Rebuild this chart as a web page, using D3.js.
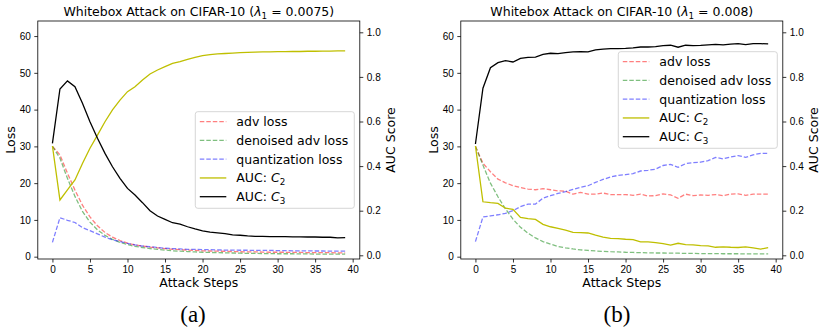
<!DOCTYPE html>
<html>
<head>
<meta charset="utf-8">
<script src="https://cdn.jsdelivr.net/npm/d3@7"></script>
<style>
    body { margin: 0; background: #fff; }
    svg { display: block; font-family: "DejaVu Sans", sans-serif; }
    .tick text { font-size: 10px; fill: #000; }
    .axis-label { font-size: 12.5px; fill: #000; }
    .title { font-size: 12.5px; fill: #000; }
    .legend text { font-size: 12.5px; fill: #000; }
    .caption { font-family: "Liberation Serif", serif; font-size: 23px; fill: #000; }
</style>
</head>
<body>
<svg id="chart" width="821" height="331"></svg>
<script>
// Attack steps 0..39
const steps = d3.range(0, 40);

// Panel (a): lambda = 0.0075
const advLossA = [30.0, 27.7, 22.7, 18.1, 14.0, 10.8, 8.4, 6.6, 5.3, 4.4, 3.7, 3.2, 2.9, 2.6, 2.4, 2.2, 2.0, 1.9, 1.8, 1.7,
    1.6, 1.55, 1.5, 1.45, 1.4, 1.35, 1.3, 1.3, 1.25, 1.2, 1.2, 1.2, 1.15, 1.15, 1.1, 1.1, 1.1, 1.1, 1.05, 1.05];
const denoisedLossA = [30.0, 26.8, 21.3, 16.4, 12.3, 9.4, 7.3, 5.8, 4.7, 3.9, 3.3, 2.8, 2.5, 2.2, 2.0, 1.8, 1.6, 1.5, 1.4, 1.3,
    1.2, 1.15, 1.1, 1.05, 1.0, 0.95, 0.9, 0.9, 0.85, 0.85, 0.8, 0.8, 0.8, 0.75, 0.75, 0.7, 0.7, 0.7, 0.7, 0.7];
const quantLossA = [3.9, 10.6, 9.9, 9.3, 7.9, 7.1, 6.2, 5.3, 4.6, 4.1, 3.6, 3.2, 2.9, 2.7, 2.5, 2.3, 2.2, 2.1, 2.0, 2.0,
    1.9, 1.9, 1.85, 1.8, 1.8, 1.75, 1.75, 1.7, 1.7, 1.7, 1.65, 1.65, 1.6, 1.6, 1.6, 1.55, 1.55, 1.5, 1.5, 1.5];
const aucC2A = [0.49, 0.248, 0.293, 0.338, 0.412, 0.480, 0.539, 0.599, 0.652, 0.696, 0.734, 0.756, 0.786, 0.813, 0.831, 0.846, 0.861, 0.868, 0.879, 0.888,
    0.895, 0.900, 0.903, 0.905, 0.907, 0.909, 0.910, 0.911, 0.912, 0.912, 0.913, 0.913, 0.914, 0.914, 0.915, 0.915, 0.916, 0.916, 0.917, 0.917];
const aucC3A = [0.502, 0.746, 0.782, 0.756, 0.682, 0.599, 0.525, 0.457, 0.397, 0.345, 0.300, 0.270, 0.236, 0.200, 0.176, 0.161, 0.146, 0.140, 0.128, 0.118,
    0.110, 0.104, 0.101, 0.097, 0.092, 0.090, 0.087, 0.085, 0.085, 0.084, 0.084, 0.084, 0.083, 0.083, 0.082, 0.082, 0.081, 0.081, 0.078, 0.079];

// Panel (b): lambda = 0.008
const advLossB = [30.0, 25.4, 23.1, 21.1, 20.1, 19.3, 18.8, 18.4, 18.2, 18.5, 18.2, 17.9, 17.8, 17.0, 17.5, 17.0, 17.0, 17.3, 16.9, 16.9,
    16.9, 16.7, 17.0, 16.5, 16.6, 17.1, 16.8, 15.9, 17.0, 16.6, 16.8, 16.7, 16.9, 16.6, 17.0, 17.1, 16.7, 17.0, 17.0, 17.0];
const denoisedLossB = [30.0, 24.9, 20.0, 16.3, 13.0, 10.2, 8.0, 6.4, 5.1, 4.1, 3.4, 2.8, 2.4, 2.1, 1.85, 1.7, 1.55, 1.45, 1.35, 1.3,
    1.2, 1.15, 1.1, 1.05, 1.0, 1.0, 0.95, 0.95, 0.9, 0.9, 0.85, 0.85, 0.85, 0.8, 0.8, 0.8, 0.75, 0.75, 0.75, 0.75];
const quantLossB = [4.1, 10.8, 11.1, 11.4, 11.8, 12.5, 13.6, 14.3, 14.3, 15.9, 16.6, 17.2, 17.7, 18.3, 18.9, 19.3, 20.2, 21.0, 21.7, 22.1,
    22.3, 22.6, 23.3, 23.5, 23.8, 24.8, 25.1, 24.3, 25.3, 25.6, 25.7, 26.1, 27.0, 26.6, 27.1, 27.5, 27.0, 27.7, 28.1, 28.1];
const aucC2B = [0.49, 0.240, 0.236, 0.233, 0.211, 0.206, 0.170, 0.164, 0.161, 0.139, 0.128, 0.121, 0.113, 0.103, 0.102, 0.100, 0.090, 0.081, 0.076, 0.075,
    0.072, 0.070, 0.060, 0.060, 0.057, 0.052, 0.046, 0.054, 0.048, 0.047, 0.043, 0.042, 0.036, 0.038, 0.036, 0.035, 0.038, 0.033, 0.028, 0.034];
const aucC3B = [0.499, 0.749, 0.841, 0.864, 0.873, 0.867, 0.883, 0.888, 0.889, 0.901, 0.906, 0.904, 0.909, 0.912, 0.913, 0.912, 0.921, 0.925, 0.927, 0.927,
    0.928, 0.930, 0.934, 0.934, 0.936, 0.940, 0.942, 0.933, 0.942, 0.940, 0.941, 0.944, 0.946, 0.944, 0.947, 0.949, 0.945, 0.949, 0.949, 0.948];

// Tick values
const xTicks = [0, 5, 10, 15, 20, 25, 30, 35, 40];
const lossTicks = [0, 10, 20, 30, 40, 50, 60];
const aucTicks = [0.0, 0.2, 0.4, 0.6, 0.8, 1.0];

const legendLabels = ['adv loss', 'denoised adv loss', 'quantization loss', 'C2', 'C3'];
const seriesColors = ['#ff0000', '#008000', '#0000ff', '#bfbf00', '#000000'];

const svg = d3.select('#chart');

// Adds "base" + subscript as mathtext-like tspans
function mathSub(text, base, sub) {
    text.append('tspan').attr('font-style', 'italic').text(base);
    text.append('tspan').attr('font-size', '0.7em').attr('dy', 3).text(sub);
}

function drawPanel(p) {
    const top = 21, bottom = 259;
    const g = svg.append('g');

    const x = d3.scaleLinear().domain([-1.95, 40.95]).range([p.left, p.right]);
    const yLoss = d3.scaleLinear().domain([-0.63, 64.1]).range([bottom, top]);
    const yAuc = d3.scaleLinear().domain([-0.0166, 1.0507]).range([bottom, top]);

    // Axes
    g.append('g')
        .attr('transform', `translate(0,${bottom})`)
        .call(d3.axisBottom(x).tickValues(xTicks).tickSize(3.5).tickPadding(3.5).tickFormat(d3.format('d')))
        .call(a => a.select('.domain').remove());
    g.append('g')
        .attr('transform', `translate(${p.left},0)`)
        .call(d3.axisLeft(yLoss).tickValues(lossTicks).tickSize(3.5).tickPadding(3.5).tickFormat(d3.format('d')))
        .call(a => a.select('.domain').remove());
    g.append('g')
        .attr('transform', `translate(${p.right},0)`)
        .call(d3.axisRight(yAuc).tickValues(aucTicks).tickSize(3.5).tickPadding(3.5).tickFormat(d3.format('.1f')))
        .call(a => a.select('.domain').remove());
    g.selectAll('.tick line').attr('stroke', '#000').attr('stroke-width', 0.8);
    g.selectAll('.tick text').attr('font-family', null).attr('font-size', null);

    // Loss lines (dashed, semi transparent)
    const lossLine = d3.line().x((d, i) => x(steps[i])).y(d => yLoss(d));
    [p.adv, p.denoised, p.quant].forEach((series, i) => {
        g.append('path')
            .datum(series)
            .attr('fill', 'none')
            .attr('stroke', seriesColors[i])
            .attr('stroke-opacity', 0.5)
            .attr('stroke-width', 1.3)
            .attr('stroke-dasharray', '4.5,2')
            .attr('d', lossLine);
    });

    // AUC lines on the twin axis
    const aucLine = d3.line().x((d, i) => x(steps[i])).y(d => yAuc(d));
    [p.c2, p.c3].forEach((series, i) => {
        g.append('path')
            .datum(series)
            .attr('fill', 'none')
            .attr('stroke', seriesColors[3 + i])
            .attr('stroke-width', 1.3)
            .attr('d', aucLine);
    });

    // Frame
    g.append('rect')
        .attr('x', p.left).attr('y', top)
        .attr('width', p.right - p.left).attr('height', bottom - top)
        .attr('fill', 'none').attr('stroke', '#000').attr('stroke-width', 0.8);

    // Title
    const mid = (p.left + p.right) / 2;
    const title = g.append('text').attr('class', 'title')
        .attr('x', mid).attr('y', 15.5).attr('text-anchor', 'middle');
    title.append('tspan').text('Whitebox Attack on CIFAR-10 (');
    mathSub(title, 'λ', '1');
    title.append('tspan').attr('dy', -3).text(` = ${p.lambda})`);

    // Axis labels
    g.append('text').attr('class', 'axis-label')
        .attr('x', mid).attr('y', 287).attr('text-anchor', 'middle')
        .text('Attack Steps');
    g.append('text').attr('class', 'axis-label')
        .attr('transform', `translate(${p.left - 23},${(top + bottom) / 2}) rotate(-90)`)
        .attr('text-anchor', 'middle')
        .text('Loss');
    g.append('text').attr('class', 'axis-label')
        .attr('transform', `translate(${p.right + 35},${(top + bottom) / 2}) rotate(-90)`)
        .attr('text-anchor', 'middle')
        .text('AUC Score');

    // Legend
    const lg = g.append('g').attr('class', 'legend')
        .attr('transform', `translate(${p.right - 164.5},${top + p.legendTop})`);
    lg.append('rect')
        .attr('width', 159).attr('height', 96.6).attr('rx', 2.5)
        .attr('fill', '#fff').attr('fill-opacity', 0.8)
        .attr('stroke', '#cccccc').attr('stroke-width', 0.8);
    legendLabels.forEach((label, i) => {
        const yy = 10 + i * 18.75;
        lg.append('line')
            .attr('x1', 4.5).attr('x2', 31).attr('y1', yy).attr('y2', yy)
            .attr('stroke', seriesColors[i])
            .attr('stroke-opacity', i < 3 ? 0.5 : 1)
            .attr('stroke-width', 1.3)
            .attr('stroke-dasharray', i < 3 ? '4.5,2' : null);
        const t = lg.append('text').attr('x', 41).attr('y', yy + 4.5);
        if (i < 3) {
            t.text(label);
        } else {
            t.append('tspan').text('AUC: ');
            mathSub(t, 'C', label.slice(1));
        }
    });

    // Sub-caption
    svg.append('text').attr('class', 'caption')
        .attr('x', p.caption).attr('y', 322).attr('text-anchor', 'middle')
        .text(p.captionText);
}

drawPanel({
    left: 37.8, right: 359.8, lambda: '0.0075', legendTop: 90.7,
    adv: advLossA, denoised: denoisedLossA, quant: quantLossA, c2: aucC2A, c3: aucC3A,
    caption: 193, captionText: '(a)'
});
drawPanel({
    left: 460.8, right: 782.8, lambda: '0.008', legendTop: 30.7,
    adv: advLossB, denoised: denoisedLossB, quant: quantLossB, c2: aucC2B, c3: aucC3B,
    caption: 617, captionText: '(b)'
});
</script>
</body>
</html>
